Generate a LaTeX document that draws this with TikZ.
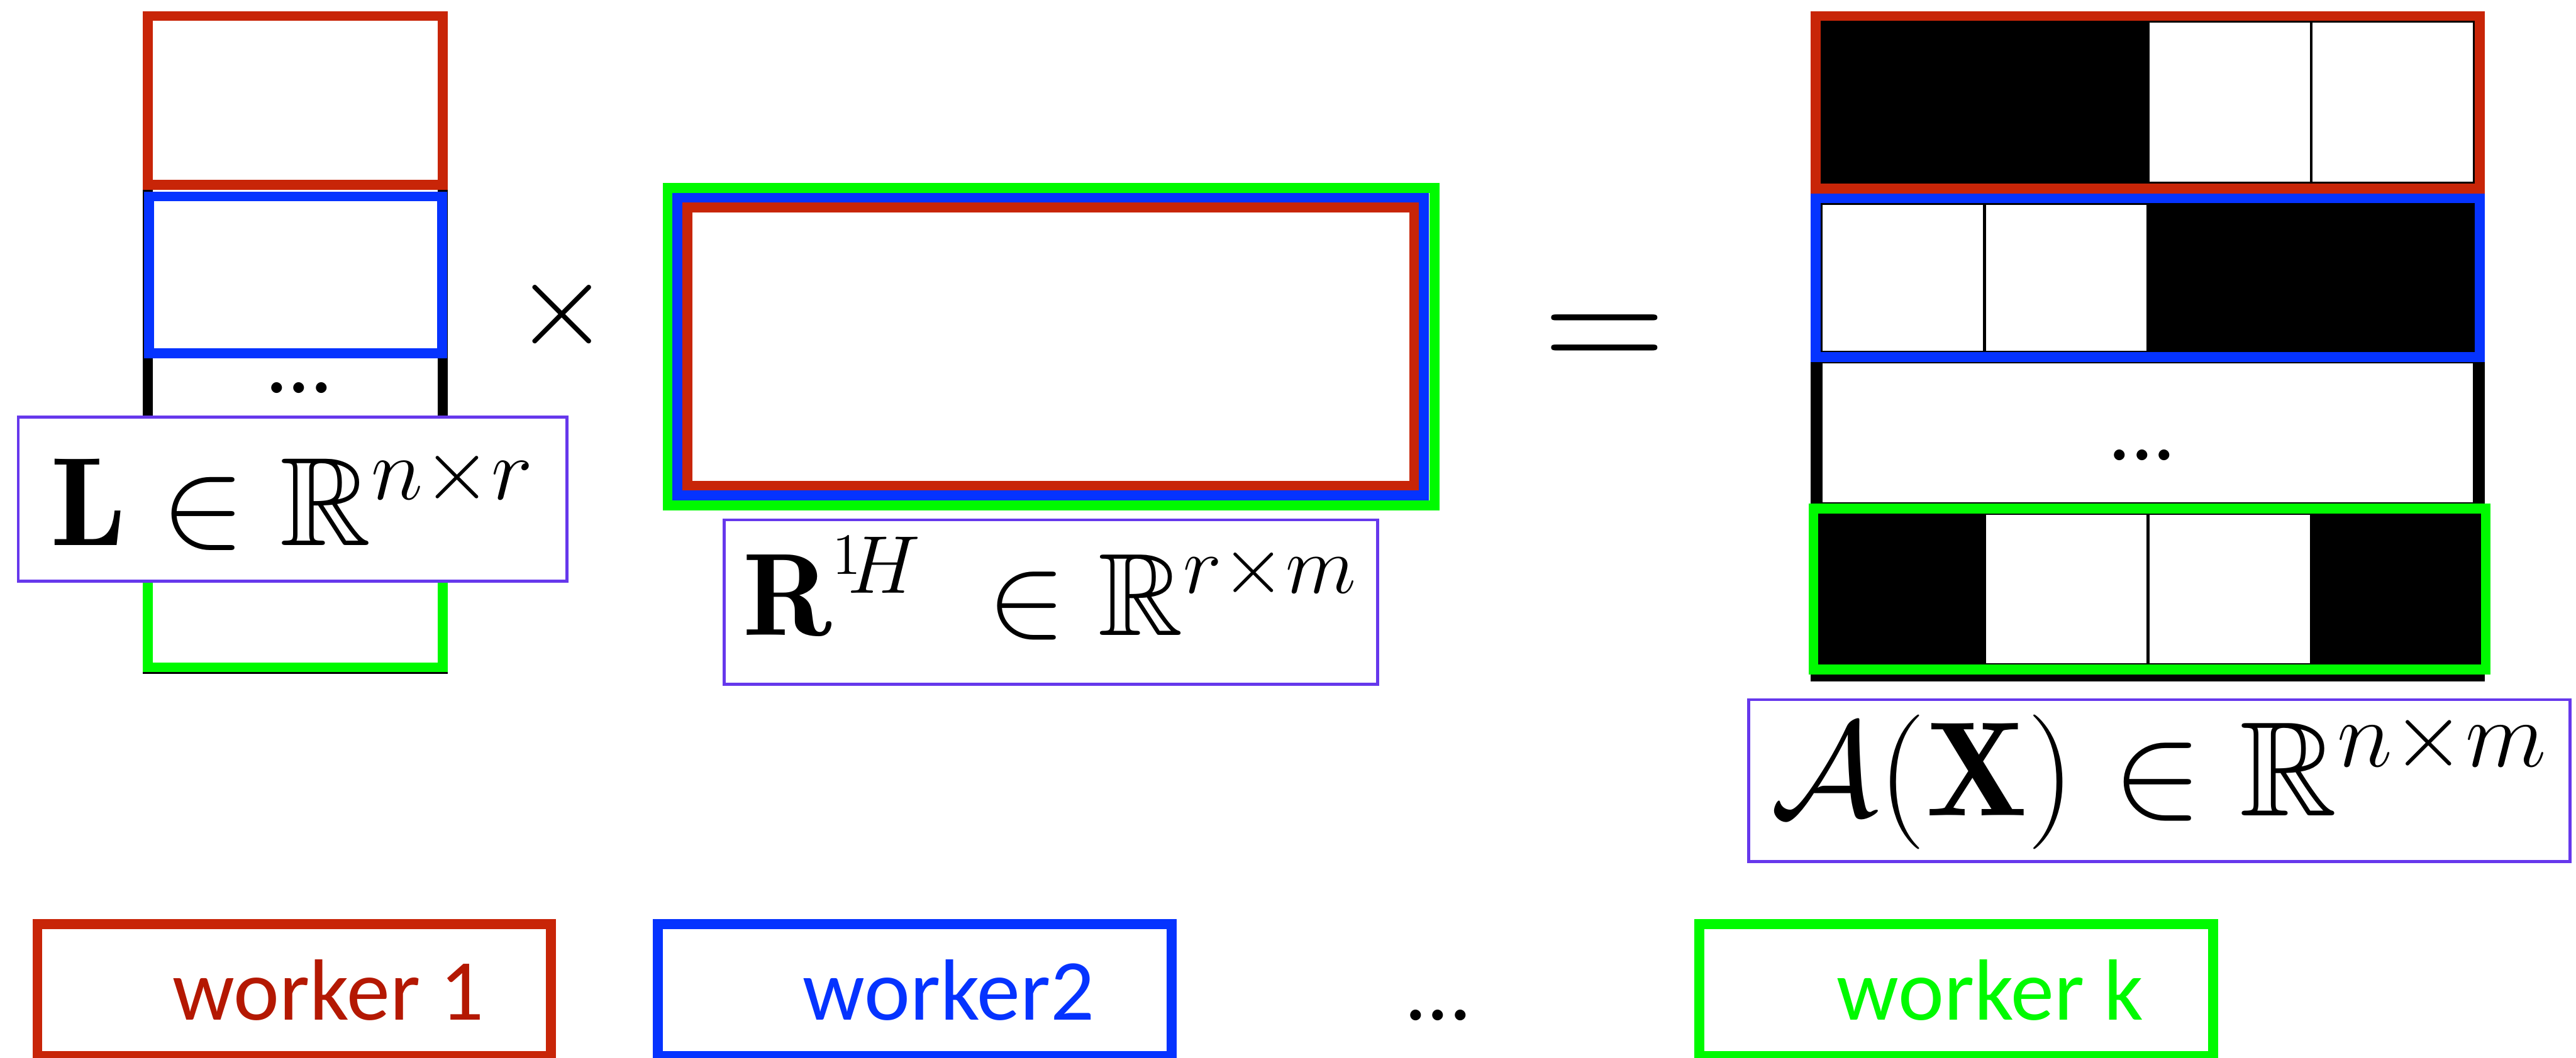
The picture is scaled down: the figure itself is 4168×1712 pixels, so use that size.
\RequirePackage{fix-cm}
\documentclass[tikz,border=0pt]{standalone}
\usepackage{amsmath,amssymb}
\usepackage{fontspec}
\newfontfamily\workerfont{Carlito}
\usetikzlibrary{positioning}
\definecolor{wred}{RGB}{200,37,8}
\definecolor{wredtxt}{RGB}{180,24,2}
\definecolor{wblue}{RGB}{5,51,255}
\definecolor{wgreen}{RGB}{0,250,0}
\definecolor{dimcol}{RGB}{102,56,236}
\tikzstyle{mframe}=[line width=0.8mm]
\tikzstyle{cell}=[draw=black, line width=0.25mm]
\tikzstyle{dimbox}=[draw=dimcol, line width=0.25mm, fill=white, inner sep=0pt]
\tikzstyle{wbox}=[draw, line width=0.8mm, outer sep=0.4mm, minimum width=41.55mm, minimum height=10.65mm,
inner sep=0pt, font=\workerfont\fontsize{20}{24}\selectfont]
\tikzstyle{ellips}=[inner sep=0pt, font=\workerfont\fontsize{20.5}{24}\selectfont]

\begin{document}
\begin{tikzpicture}[x=0.05mm, y=-0.05mm, node distance=7.85mm]

    \useasboundingbox (0,0) rectangle (4168,1712);

    % L
    \draw[mframe] (239,26) rectangle (716,1083);
    \draw[mframe, wred] (239,26) rectangle (716,299);
    \draw[mframe, wblue] (241,318) rectangle (715,572);
    \draw[mframe, wgreen] (239,700) rectangle (716,1080);
    \node[ellips] (Ldots) at (484,628) {...};
    \node[dimbox, minimum width=44.4mm, minimum height=13.25mm, font=\fontsize{29}{35}\selectfont] (Llbl) at (473.5,808) {$\mathbf{L}\in\mathbb{R}^{n\times r}$};

    \node[font=\fontsize{28}{34}\selectfont] (times) at (909,509) {$\times$};

    % R
    \draw[mframe, wgreen] (1080,304) rectangle (2321,818);
    \draw[mframe, wblue] (1096,320) rectangle (2304,802);
    \draw[mframe, wred] (1112,336) rectangle (2288,786);
    \node[dimbox, minimum width=52.85mm, minimum height=13.3mm, text depth=2.6mm, font=\fontsize{27}{33}\selectfont] (Rlbl) at (1700,974.5) {$\mathbf{R}^{\raisebox{1.5mm}{$\scriptscriptstyle 1$}\!H}\;\in\mathbb{R}^{r\times m}$};

    \node[font=\fontsize{39}{47}\selectfont] (eq) at (2596,558) {$=$};

    % A(X)
    \draw[mframe] (2938,26) rectangle (4012,1095);
    \foreach \c/\f in {0/black,1/black,2/white,3/white}
        \draw[cell, fill=\f] (2946+264.5*\c,34) rectangle ++(264.5,263);
    \foreach \c/\f in {0/white,1/white,2/black,3/black}
        \draw[cell, fill=\f] (2946+264.5*\c,329) rectangle ++(264.5,241);
    \draw[cell] (2946,586) rectangle (4004,815);
    \foreach \c/\f in {0/black,1/white,2/white,3/black}
        \draw[cell, fill=\f] (2946+264.5*\c,831) rectangle ++(264.5,245);
    \draw[mframe, wred] (2938,26) rectangle (4012,305);
    \draw[mframe, wblue] (2938,321) rectangle (4012,578);
    \draw[mframe, wgreen] (2934,823) rectangle (4022,1084);
    \node[ellips] (Adots) at (3466,737) {...};
    \node[dimbox, minimum width=66.45mm, minimum height=13.1mm, font=\fontsize{31}{37}\selectfont] (Albl) at (3494,1263.5) {$\mathcal{A}(\mathbf{X})\in\mathbb{R}^{n\times m}$};

    % workers
    \node[wbox, draw=wred, text=wredtxt] (w1) at (476,1602.5) {\hspace*{5.5mm}worker 1};
    \node[wbox, draw=wblue, text=wblue, right=of w1] (w2) {\hspace*{5.5mm}worker2};
    \node[wbox, draw=wgreen, text=wgreen, right=41.9mm of w2] (wk) {\hspace*{5.5mm}worker k};
    \node[ellips] (wdots) at (2327,1643) {...};

\end{tikzpicture}
\end{document}
